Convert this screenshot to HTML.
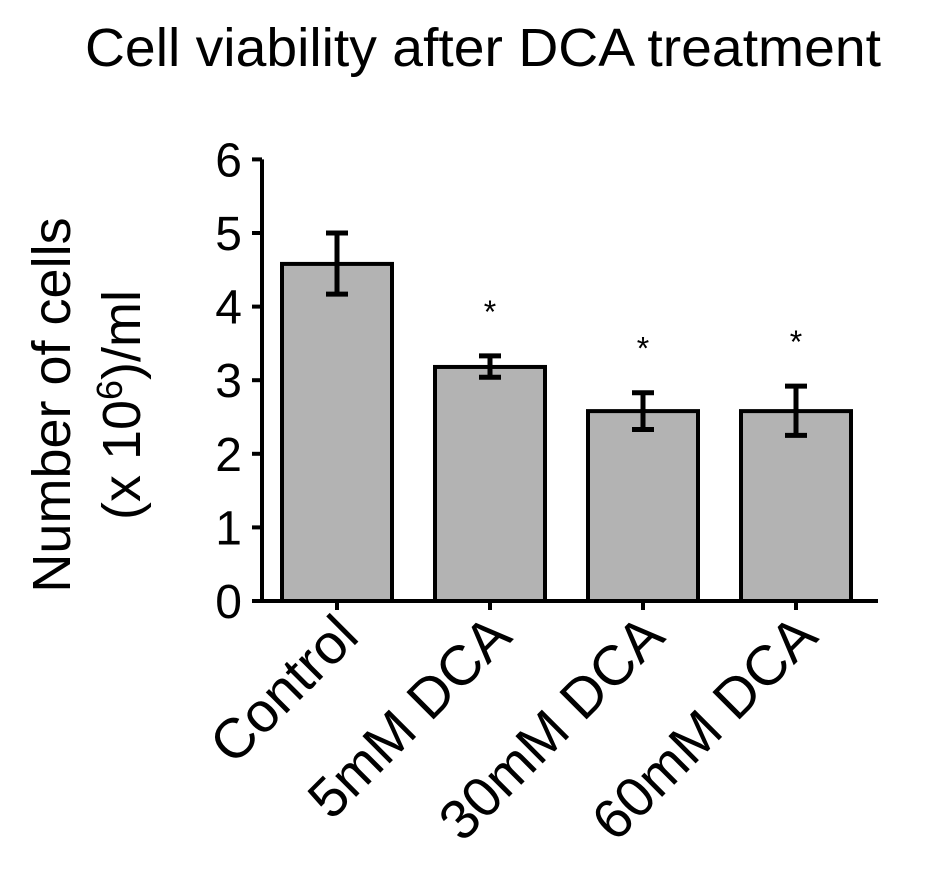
<!DOCTYPE html>
<html><head><meta charset="utf-8"><style>
body{margin:0;background:#fff;}
svg text{font-family:"Liberation Sans",Arial,sans-serif;fill:#000;}
</style></head><body>
<svg id="chart" width="945" height="886" xmlns="http://www.w3.org/2000/svg">
<text x="483" y="66" font-size="54" text-anchor="middle" textLength="796" lengthAdjust="spacingAndGlyphs">Cell viability after DCA treatment</text>
<g transform="translate(0,405) rotate(-90)">
<text x="0" y="70" font-size="54" text-anchor="middle">Number of cells</text>
<text x="0" y="140" font-size="54" text-anchor="middle">(x 10<tspan font-size="36" dy="-18">6</tspan><tspan dy="18">)/ml</tspan></text>
</g>
<g id="plot"></g>
</svg>
<script>
const categories=["Control","5mM DCA","30mM DCA","60mM DCA"];
const values=[4.58,3.18,2.58,2.58];
const errLow=[4.17,3.04,2.33,2.25];
const errHigh=[5.0,3.33,2.83,2.92];
const significant=[false,true,true,true];
const yTicks=[0,1,2,3,4,5,6];
const ns="http://www.w3.org/2000/svg";
const g=document.getElementById('plot');
const y0=601,pxPer=73.6,xL=262,xR=878;
const y=v=>y0-v*pxPer;
const step=153,first=337,bw=110;
const xc=i=>first+i*step;
function mk(t,a){const e=document.createElementNS(ns,t);for(const k in a)e.setAttribute(k,a[k]);g.appendChild(e);return e;}
yTicks.forEach(t=>{
 const l=mk('line',{x1:xL-10,x2:xL,y1:y(t),y2:y(t),stroke:'#000','stroke-width':4});
 
 
 const tx=mk('text',{x:xL-20,y:y(t)+17,'font-size':48,'text-anchor':'end'});
 tx.textContent=t;
 
 
});
categories.forEach((c,i)=>{
 const cx=xc(i);
 const r=mk('rect',{x:cx-bw/2,y:y(values[i]),width:bw,height:y0-y(values[i]),fill:'#b3b3b3',stroke:'#000','stroke-width':4});
 
 
 const eb=mk('path',{d:`M${cx},${y(errHigh[i])}V${y(errLow[i])}M${cx-11},${y(errHigh[i])}H${cx+11}M${cx-11},${y(errLow[i])}H${cx+11}`,stroke:'#000','stroke-width':5,fill:'none'});
 
 
 if(significant[i]){const s=mk('text',{x:cx,y:y(errHigh[i])-33,'font-size':32,'text-anchor':'middle'});s.textContent='*';
 
 }
 const tk=mk('line',{x1:cx,x2:cx,y1:y0,y2:y0+9,stroke:'#000','stroke-width':4});
 
 
 const lb=mk('text',{x:0,y:0,'font-size':56,'text-anchor':'end',transform:`translate(${cx+24},${y0+38}) rotate(-45)`});
 lb.textContent=c;
 
 
});
const ya=mk('line',{x1:xL,x2:xL,y1:y(6),y2:y0,stroke:'#000','stroke-width':4});


const xa=mk('line',{x1:xL-10,x2:xR,y1:y0,y2:y0,stroke:'#000','stroke-width':4});


</script>
</body></html>
